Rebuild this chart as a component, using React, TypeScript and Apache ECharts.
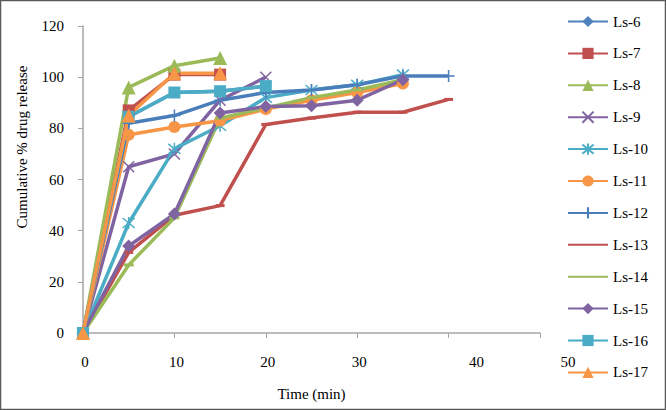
import React, { useEffect, useRef } from "react";
import * as echarts from "echarts";

const time = [0, 5, 10, 15, 20, 25, 30, 35, 40];
const seriesNames = ["Ls-6", "Ls-7", "Ls-8", "Ls-9", "Ls-10", "Ls-11", "Ls-12", "Ls-13", "Ls-14", "Ls-15", "Ls-16", "Ls-17"];
const ls6 = [0, 84.5, 94, 94.5, 96.5];
const ls7 = [0, 87, 101, 101];
const ls8 = [0, 96, 104.5, 107.5];
const ls9 = [0, 65, 70, 91, 100];
const ls10 = [0, 43, 72, 81, 92, 95, 97, 101];
const ls11 = [0, 77.5, 80.5, 83, 87.5, 91, 94, 97.5];
const ls12 = [0, 82, 85, 91, 94, 95, 97, 100.5, 100.5];
const ls13 = [0, 31.5, 46, 49.8, 81.5, 84, 86.3, 86.3, 91.3];
const ls14 = [0, 26.6, 45, 84, 88, 92, 95, 99];
const ls15 = [0, 34, 46.5, 86, 88.5, 88.8, 91, 99];
const ls16 = [0, 84.5, 94, 94.5, 96.5];
const ls17 = [0, 85, 101.5, 101.5];
const yTicks = [0, 20, 40, 60, 80, 100, 120];
const xTicks = [0, 10, 20, 30, 40, 50];

const seriesValues = [ls6, ls7, ls8, ls9, ls10, ls11, ls12, ls13, ls14, ls15, ls16, ls17];
const colors = ["#4F81BD", "#C0504D", "#9BBB59", "#8064A2", "#4BACC6", "#F79646", "#4A7EBB", "#C0504D", "#9BBB59", "#8064A2", "#4BACC6", "#F79646"];

const X_PATH = "path://M0,0L10,10M10,0L0,10";
const AST_PATH = "path://M0,0L10,10M10,0L0,10M5,-1L5,11";
const PLUS_PATH = "path://M5,0L5,10M0,5L10,5";

const symbols: any[] = [
  { symbol: "diamond", size: 10, stroke: false },
  { symbol: "rect", size: 12, stroke: false },
  { symbol: "triangle", size: 14, stroke: false },
  { symbol: X_PATH, size: 11, stroke: true },
  { symbol: AST_PATH, size: 12, stroke: true },
  { symbol: "circle", size: 12, stroke: false },
  { symbol: PLUS_PATH, size: 12, stroke: true },
  { symbol: "rect", size: [9, 3], stroke: false },
  { symbol: "rect", size: [10, 3], stroke: false },
  { symbol: "diamond", size: 13, stroke: false },
  { symbol: "rect", size: 12, stroke: false },
  { symbol: "triangle", size: 14, stroke: false },
];

const FONT = "'Liberation Serif', 'DejaVu Serif', serif";

export default function App() {
  const ref = useRef<HTMLDivElement>(null);
  useEffect(() => {
    if (!ref.current) return;
    const chart = echarts.init(ref.current, null, { renderer: "svg" });
    const series = seriesNames.map((name, i) => {
      const s = symbols[i];
      return {
        name,
        type: "line",
        data: seriesValues[i].map((v, j) => [time[j], v]),
        symbol: s.symbol,
        symbolSize: s.size,
        showAllSymbol: true,
        lineStyle: { color: colors[i], width: 3.5 },
        itemStyle: s.stroke
          ? { color: colors[i], borderColor: colors[i], borderWidth: 1.5 }
          : { color: colors[i], borderWidth: 0 },
        emphasis: { disabled: true },
      };
    });
    const legendData = seriesNames.map((name, i) =>
      i === 7 || i === 8 ? { name, itemStyle: { opacity: 0 } } : { name }
    );
    chart.setOption({
      animation: false,
      color: colors,
      grid: { left: 83, right: 126, top: 26, bottom: 77 },
      legend: {
        orient: "vertical",
        left: 562,
        top: 9,
        itemWidth: 40,
        itemHeight: 14,
        itemGap: 16.9,
        data: legendData,
        textStyle: { fontFamily: FONT, fontSize: 15, color: "#000", lineHeight: 14 },
      },
      xAxis: {
        type: "value",
        min: xTicks[0],
        max: xTicks[xTicks.length - 1],
        interval: 10,
        name: "Time (min)",
        nameLocation: "middle",
        nameGap: 53,
        nameTextStyle: { fontFamily: FONT, fontSize: 15, color: "#000" },
        axisLine: { show: true, lineStyle: { color: "#A6A6A6", width: 1.5 } },
        axisTick: { show: true, inside: false, length: 5, lineStyle: { color: "#A6A6A6" } },
        splitLine: { show: false },
        axisLabel: {
          fontFamily: FONT,
          fontSize: 15,
          color: "#000",
          margin: 21,
          formatter: (v: number) => (v >= 40 ? "{s|" + v + "}" : "{n|" + v + "}"),
          rich: {
            s: { fontFamily: FONT, fontSize: 15, color: "#000", padding: [0, 0, 0, 56] },
            n: { fontFamily: FONT, fontSize: 15, color: "#000", padding: [0, 0, 0, 4] },
          },
        },
      },
      yAxis: {
        type: "value",
        min: yTicks[0],
        max: yTicks[yTicks.length - 1],
        interval: 20,
        axisLine: { show: true, lineStyle: { color: "#A6A6A6", width: 1.5 } },
        axisTick: { show: true, inside: false, length: 5, lineStyle: { color: "#A6A6A6" } },
        splitLine: { show: false },
        axisLabel: { fontFamily: FONT, fontSize: 15, color: "#000", margin: 19 },
      },
      graphic: [
        {
          type: "rect",
          shape: { x: 0.5, y: 0.5, width: 665, height: 409 },
          style: { fill: "none", stroke: "#595959", lineWidth: 1.5 },
          silent: true,
        },
        {
          type: "text",
          x: 22,
          y: 147,
          rotation: Math.PI / 2,
          style: {
            text: "Cumulative % drug release",
            fontFamily: FONT,
            fontSize: 15,
            fill: "#000",
            align: "center",
            verticalAlign: "middle",
          },
        },
      ],
      series,
    });
    return () => chart.dispose();
  }, []);
  return (
    <div
      ref={ref}
      style={{ position: "fixed", left: 0, top: 0, width: 666, height: 410, background: "#fff" }}
    />
  );
}
